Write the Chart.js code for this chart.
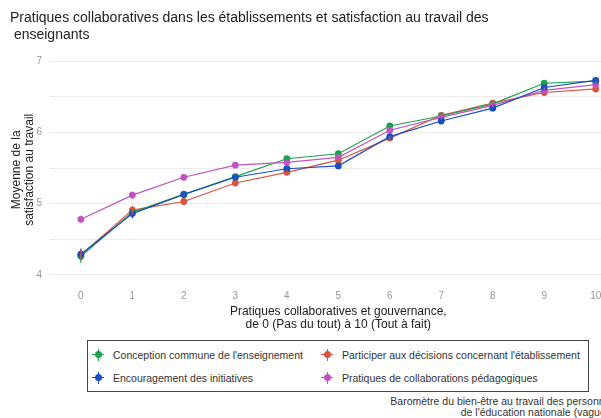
<!DOCTYPE html>
<html lang="fr">
<head>
<meta charset="utf-8">
<script src="https://cdn.jsdelivr.net/npm/chart.js@4"></script>
<style>
  html, body { margin: 0; padding: 0; background: #fff; overflow: hidden; width: 601px; height: 418px; }
  body { position: relative; font-family: "Liberation Sans", Arial, sans-serif; }
  #wrap { position: absolute; left: 0; top: 0; width: 630px; height: 335px; }
  #legend {
    position: absolute; left: 87px; top: 340px; width: 502px; height: 52px;
    border: 1px solid #444; box-sizing: border-box;
    display: grid; grid-template-columns: 229px 1fr; grid-template-rows: 1fr 1fr;
    grid-auto-flow: column; padding: 2px 0 2px 4px;
    font-size: 10.5px; color: #333;
  }
  .item { display: flex; align-items: center; }
  .mk { position: relative; width: 12px; height: 12px; margin-right: 9px; }
  .mk .dot { position: absolute; left: 2.5px; top: 2.5px; width: 7px; height: 7px; border-radius: 50%; }
  .mk .h { position: absolute; left: 0; top: 5.5px; width: 12px; height: 1px; }
  .mk .v { position: absolute; left: 5.5px; top: 0; width: 1px; height: 12px; }
  #caption {
    position: absolute; right: -17px; top: 396px; text-align: right;
    font-size: 10.5px; line-height: 11px; color: #333; white-space: nowrap;
  }
</style>
</head>
<body>
<div id="wrap"><canvas id="chart" width="630" height="335"></canvas></div>
<div id="legend"></div>
<div id="caption">Baromètre du bien-être au travail des personnels<br>de l'éducation nationale (vague 2)</div>
<script>
// categories (score 0 to 10)
const categories = [0, 1, 2, 3, 4, 5, 6, 7, 8, 9, 10];

const seriesNames = [
  "Conception commune de l'enseignement",
  "Encouragement des initiatives",
  "Participer aux décisions concernant l'établissement",
  "Pratiques de collaborations pédagogiques"
];
const seriesColors = ["#1ea04c", "#1a4fc4", "#d9553f", "#c155bf"];

// mean satisfaction per score
const conception    = [4.26, 4.88, 5.13, 5.38, 5.63, 5.70, 6.09, 6.23, 6.40, 6.69, 6.72];
const encouragement = [4.29, 4.86, 5.13, 5.37, 5.49, 5.53, 5.94, 6.16, 6.34, 6.63, 6.73];
const participer    = [4.28, 4.91, 5.03, 5.29, 5.44, 5.61, 5.92, 6.24, 6.41, 6.56, 6.61];
const pratiques     = [4.78, 5.12, 5.37, 5.54, 5.58, 5.65, 6.03, 6.21, 6.38, 6.59, 6.67];

// half-width of confidence intervals
const errConception    = [0.09, 0.07, 0.05, 0.04, 0.03, 0.03, 0.03, 0.03, 0.03, 0.04, 0.04];
const errEncouragement = [0.08, 0.07, 0.05, 0.04, 0.03, 0.03, 0.03, 0.03, 0.03, 0.04, 0.04];
const errParticiper    = [0.07, 0.06, 0.05, 0.04, 0.04, 0.03, 0.03, 0.03, 0.03, 0.04, 0.05];
const errPratiques     = [0.05, 0.05, 0.04, 0.03, 0.03, 0.03, 0.03, 0.03, 0.03, 0.04, 0.04];

const seriesValues = [conception, encouragement, participer, pratiques];
const seriesErrors = [errConception, errEncouragement, errParticiper, errPratiques];
const drawOrder = [2, 0, 3, 1]; // blue on top

const yTicks = [4, 5, 6, 7];

// error bars
const errorBars = {
  id: "errorBars",
  afterDatasetsDraw(chart) {
    const ctx = chart.ctx;
    const xs = chart.scales.x, ys = chart.scales.y;
    ctx.save();
    ctx.lineWidth = 1.2;
    chart.data.datasets.forEach((ds, i) => {
      ctx.strokeStyle = ds.borderColor;
      ds.data.forEach((p, j) => {
        const e = seriesErrors[i][j];
        const px = xs.getPixelForValue(p.x);
        ctx.beginPath();
        ctx.moveTo(px, ys.getPixelForValue(p.y - e));
        ctx.lineTo(px, ys.getPixelForValue(p.y + e));
        ctx.stroke();
      });
    });
    ctx.restore();
  }
};

const font = "'Liberation Sans', Arial, sans-serif";

new Chart(document.getElementById("chart"), {
  type: "line",
  data: {
    datasets: seriesNames.map((name, i) => ({
      label: name,
      data: categories.map((c, j) => ({ x: c, y: seriesValues[i][j] })),
      borderColor: seriesColors[i],
      backgroundColor: seriesColors[i],
      borderWidth: 1.2,
      pointRadius: 3.4,
      pointBorderWidth: 0,
      pointHoverRadius: 3.4,
      order: drawOrder[i],
      tension: 0
    }))
  },
  options: {
    responsive: false,
    animation: false,
    layout: { padding: { left: 10, right: 0, top: 0, bottom: 0 } },
    plugins: {
      legend: { display: false },
      tooltip: { enabled: false },
      title: {
        display: true,
        align: "start",
        text: ["Pratiques collaboratives dans les établissements et satisfaction au travail des", " enseignants"],
        color: "#222",
        font: { family: font, size: 14, weight: "normal", lineHeight: 1.2 },
        padding: { top: 10, bottom: 14 }
      }
    },
    scales: {
      x: {
        type: "linear",
        min: -0.6,
        max: 10.6,
        afterFit: (s) => { s.height = 53; },
        grid: { display: false, drawTicks: false },
        border: { display: false },
        ticks: {
          stepSize: 1,
          includeBounds: false,
          color: "#999",
          padding: 8,
          maxRotation: 0,
          font: { family: font, size: 10 }
        },
        title: {
          display: true,
          text: ["Pratiques collaboratives et gouvernance,", "de 0 (Pas du tout) à 10 (Tout à fait)"],
          color: "#222",
          font: { family: font, size: 12, lineHeight: 1.15 },
          padding: { top: 2, bottom: 3 }
        }
      },
      y: {
        min: 3.9,
        max: 7.05,
        afterFit: (s) => { s.width = 40; },
        grid: { color: "#ebebeb", lineWidth: 1, drawTicks: false },
        border: { display: false },
        afterBuildTicks: (s) => {
          s.ticks = [4, 4.5, 5, 5.5, 6, 6.5, 7].map(v => ({ value: v }));
        },
        ticks: {
          color: "#999",
          padding: 8,
          font: { family: font, size: 10 },
          callback: (v) => yTicks.includes(v) ? String(v) : ""
        },
        title: {
          display: true,
          text: ["Moyenne de la", "satisfaction au travail"],
          color: "#222",
          font: { family: font, size: 12, lineHeight: 1.1 },
          padding: { top: 0, bottom: 2 }
        }
      }
    }
  },
  plugins: [errorBars]
});

// legend, filled column-wise like the original
const legend = document.getElementById("legend");
seriesNames.forEach((name, i) => {
  const item = document.createElement("div");
  item.className = "item";
  const c = seriesColors[i];
  item.innerHTML = '<span class="mk"><span class="h" style="background:' + c + '"></span>' +
    '<span class="v" style="background:' + c + '"></span>' +
    '<span class="dot" style="background:' + c + '"></span></span>' + name;
  legend.appendChild(item);
});
</script>
</body>
</html>
